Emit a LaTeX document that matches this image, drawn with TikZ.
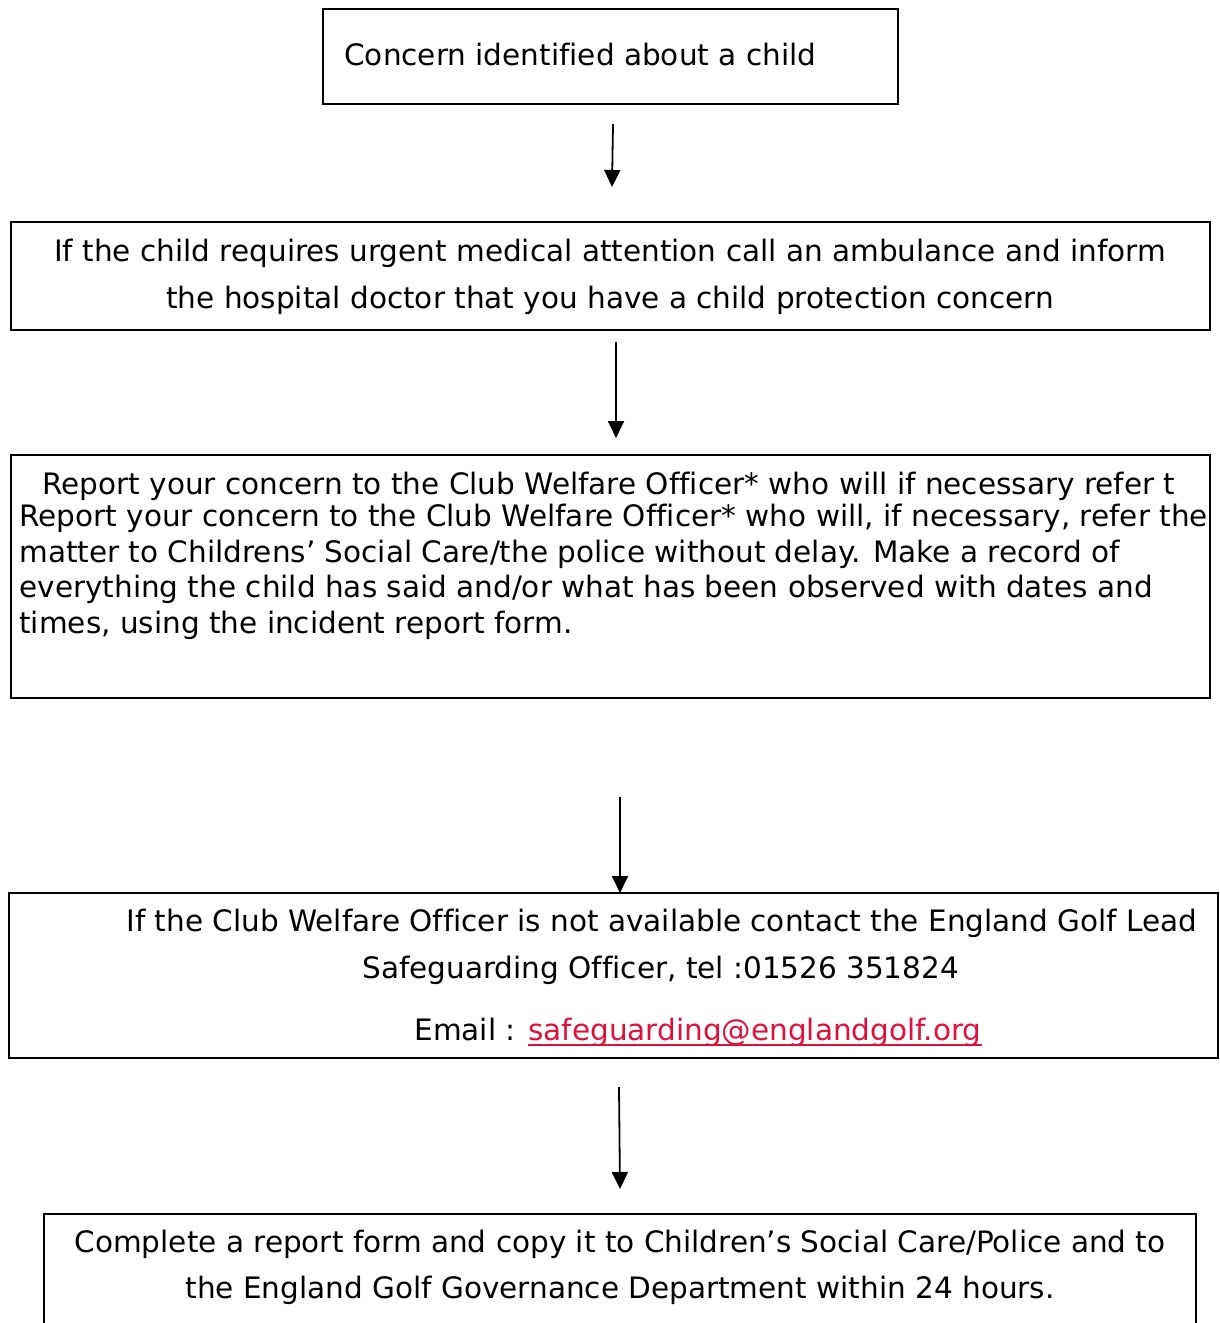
\documentclass[tikz,border=0pt]{standalone}
\usepackage{fontspec}
\setmainfont[Ligatures=CommonOff]{DejaVu Sans}
\usetikzlibrary{arrows.meta}
\definecolor{linkred}{HTML}{E0103A}
\begin{document}
\begin{tikzpicture}[x=0.5pt,y=-0.5pt,
  box/.style={draw=black,line width=1.25pt,inner sep=0pt},
  txt/.style={inner sep=0pt,font=\fontsize{14.75pt}{17pt}\selectfont},
  arr/.style={line width=0.9pt,-{Triangle[length=8.5pt,width=8pt]}}]
\useasboundingbox (0,0) rectangle (1220,1323);
% boxes
\node[box,minimum width=575*0.5pt,minimum height=95*0.5pt] (b1) at (610.5,56.5) {};
\node[box,minimum width=1199*0.5pt,minimum height=108*0.5pt] (b2) at (610.5,276) {};
\node[box,minimum width=1199*0.5pt,minimum height=243*0.5pt] (b3) at (610.5,576.5) {};
\node[box,minimum width=1209*0.5pt,minimum height=165*0.5pt] (b4) at (613.5,975.5) {};
\draw[line width=1.25pt] (44,1340) -- (44,1214) -- (1196,1214) -- (1196,1340);
\coordinate (b5) at (620,1214);
% texts
\node[txt,anchor=base west] (t1) at (344,65) {Concern identified about a child};
\node[txt,anchor=base] (t2a) at (610,261) {If the child requires urgent medical attention call an ambulance and inform};
\node[txt,anchor=base] (t2b) at (610,308) {the hospital doctor that you have a child protection concern};
\node[txt,anchor=base west] (t3a) at (42,494) {Report your concern to the Club Welfare Officer* who will if necessary refer t};
\node[txt,anchor=base west] (t3b) at (19,526) {Report your concern to the Club Welfare Officer* who will, if necessary, refer the};
\node[txt,anchor=base west] (t3c) at (19,562) {matter to Childrens’ Social Care/the police without delay. Make a record of};
\node[txt,anchor=base west] (t3d) at (19,597) {everything the child has said and/or what has been observed with dates and};
\node[txt,anchor=base west] (t3e) at (19,633) {times, using the incident report form.};
\node[txt,anchor=base west] (t4a) at (126,931) {If the Club Welfare Officer is not available contact the England Golf Lead};
\node[txt,anchor=base west] (t4b) at (362,978) {Safeguarding Officer, tel :01526 351824};
\node[txt,anchor=base west] (t4c) at (414,1040) {Email :};
\node[txt,anchor=base west,text=linkred] (t4d) at (528,1040) {safeguarding@englandgolf.org};
\draw[linkred,line width=1pt] ([yshift=-2.6pt]t4d.base west) -- ([yshift=-2.6pt]t4d.base east);
\node[txt,anchor=base] (t5a) at (620,1252) {Complete a report form and copy it to Children’s Social Care/Police and to};
\node[txt,anchor=base] (t5b) at (620,1298) {the England Golf Governance Department within 24 hours.};
% arrows
\coordinate (a1s) at (613,124); \coordinate (a1e) at (612,187);
\coordinate (a2s) at (616,342); \coordinate (a2e) at (616,438);
\coordinate (a3s) at (620,797); \coordinate (a3e) at (620,893);
\coordinate (a4s) at (619,1087); \coordinate (a4e) at (620,1189);
\draw[arr] (a1s) -- (a1e);
\draw[arr] (a2s) -- (a2e);
\draw[arr] (a3s) -- (a3e);
\draw[arr] (a4s) -- (a4e);
\end{tikzpicture}
\end{document}
